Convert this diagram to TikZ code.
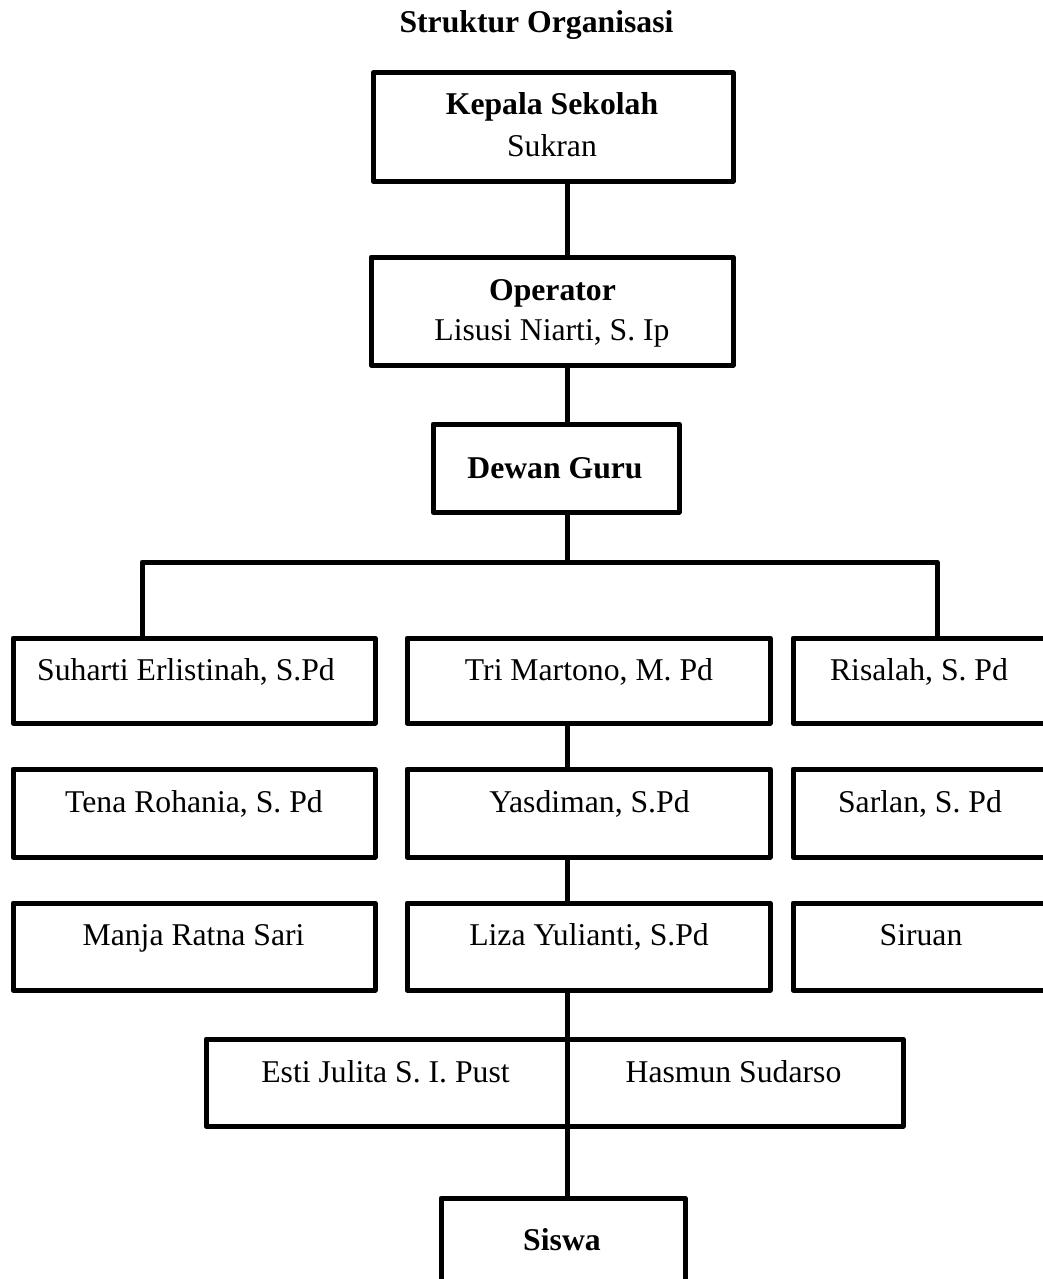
\documentclass[tikz,border=0pt]{standalone}
\usepackage{fontspec}
\setmainfont{Liberation Serif}
\begin{document}
\begin{tikzpicture}[x=1pt,y=-1pt,
  box/.style={draw, line width=5pt, line join=round, inner sep=0pt, outer sep=0pt, anchor=north west},
  txt/.style={anchor=base, inner sep=0pt, font=\fontsize{31.7}{38}\selectfont},
  btxt/.style={anchor=base, inner sep=0pt, font=\fontsize{31.7}{38}\selectfont\bfseries},
  link/.style={line width=5pt, line join=round}]
\useasboundingbox (0,0) rectangle (1043,1279);
\clip (0,0) rectangle (1043,1279);

% title
\node[btxt] (title) at (536.5,33) {Struktur Organisasi};

% boxes
\node[box, minimum width=360pt, minimum height=108pt] (kepala) at (373,73) {};
\node[box, minimum width=362pt, minimum height=108pt] (operator) at (371,257) {};
\node[box, minimum width=246pt, minimum height=88pt] (dewan) at (433,424) {};

\node[box, minimum width=362pt, minimum height=85pt] (l1) at (13,638) {};
\node[box, minimum width=363pt, minimum height=85pt] (m1) at (407,638) {};
\node[box, minimum width=254pt, minimum height=85pt] (r1) at (793,638) {};

\node[box, minimum width=362pt, minimum height=88pt] (l2) at (13,769) {};
\node[box, minimum width=363pt, minimum height=88pt] (m2) at (407,769) {};
\node[box, minimum width=254pt, minimum height=88pt] (r2) at (793,769) {};

\node[box, minimum width=362pt, minimum height=87pt] (l3) at (13,903) {};
\node[box, minimum width=363pt, minimum height=87pt] (m3) at (407,903) {};
\node[box, minimum width=254pt, minimum height=87pt] (r3) at (793,903) {};

\node[box, minimum width=697pt, minimum height=87pt] (lib) at (206,1039) {};
\node[box, minimum width=244pt, minimum height=92pt] (siswa) at (441,1198) {};

% texts
\node[btxt] (t-kepala) at (552,115) {Kepala Sekolah};
\node[txt] (t-sukran) at (552,157) {Sukran};
\node[btxt] (t-operator) at (552.5,300) {Operator};
\node[txt] (t-lisusi) at (552,340) {Lisusi Niarti, S. Ip};
\node[btxt] (t-dewan) at (555,478) {Dewan Guru};

\node[txt] (t-l1) at (186,680) {Suharti Erlistinah, S.Pd};
\node[txt] (t-m1) at (589,680) {Tri Martono, M. Pd};
\node[txt] (t-r1) at (919,680) {Risalah, S. Pd};

\node[txt] (t-l2) at (194,812) {Tena Rohania, S. Pd};
\node[txt] (t-m2) at (589.5,812) {Yasdiman, S.Pd};
\node[txt] (t-r2) at (920,812) {Sarlan, S. Pd};

\node[txt] (t-l3) at (193.5,945) {Manja Ratna Sari};
\node[txt] (t-m3) at (589,945) {Liza Yulianti, S.Pd};
\node[txt] (t-r3) at (921,945) {Siruan};

\node[txt] (t-esti) at (385.5,1082) {Esti Julita S. I. Pust};
\node[txt] (t-hasmun) at (733.5,1082) {Hasmun Sudarso};
\node[btxt] (t-siswa) at (562,1250) {Siswa};

% connectors
\coordinate (tx) at (567,0);
\coordinate (bar) at (567,562);
\coordinate (bl) at (142,562);
\coordinate (br) at (937,562);
\draw[link] (kepala.south -| tx) -- (operator.north -| tx);
\draw[link] (operator.south -| tx) -- (dewan.north -| tx);
\draw[link] (dewan.south -| tx) -- (bar);
\draw[link] (bl |- l1.north) -- (bl) -- (br) -- (br |- r1.north);
\draw[link] (m1.south -| tx) -- (m2.north -| tx);
\draw[link] (m2.south -| tx) -- (m3.north -| tx);
\draw[link] (m3.south -| tx) -- (siswa.north -| tx);
\end{tikzpicture}
\end{document}
